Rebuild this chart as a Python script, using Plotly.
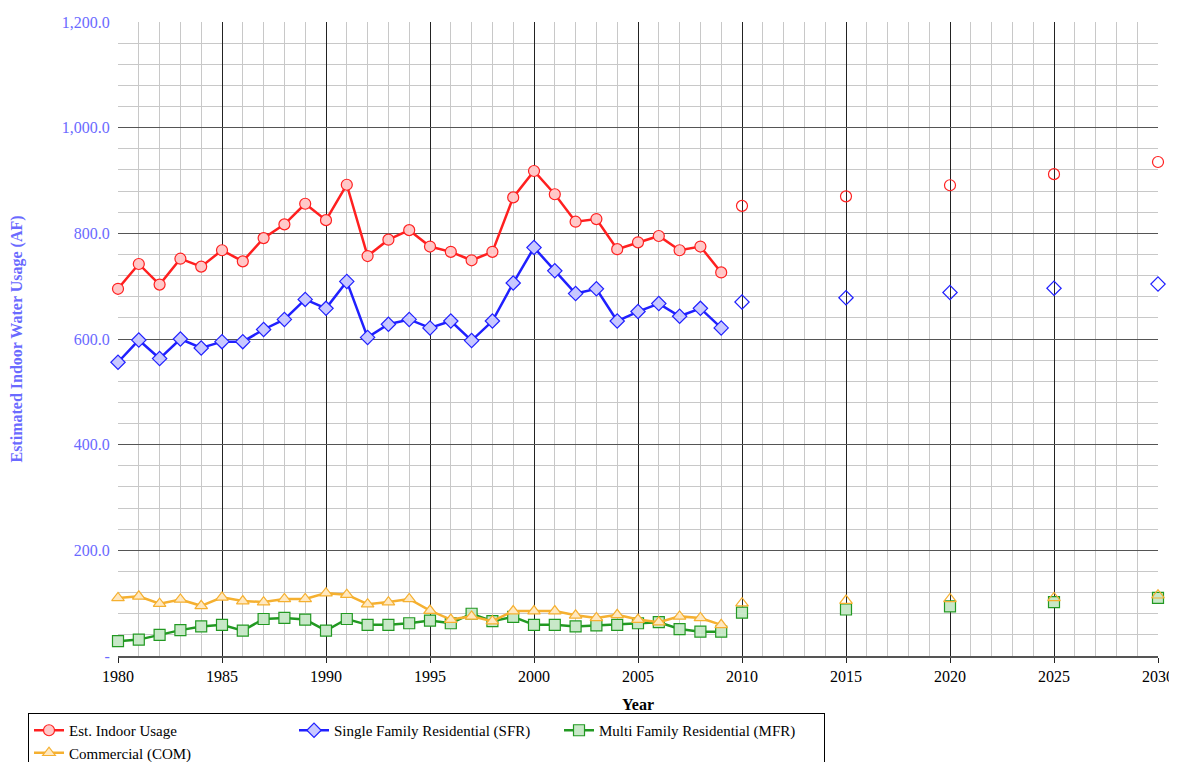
import plotly.graph_objects as go

years = list(range(1980, 2010))
proj_years = [2010, 2015, 2020, 2025, 2030]

indoor = [695, 742, 703, 752, 737, 768, 747, 791, 817, 856, 825, 892, 757, 788, 806,
          775, 765, 749, 765, 868, 918, 874, 822, 827, 770, 783, 795, 768, 775, 726]
indoor_proj = [852, 870, 891, 912, 935]
sfr = [556, 598, 563, 600, 583, 595, 595, 618, 637, 675, 658, 709, 603, 628, 637,
       621, 634, 597, 634, 706, 773, 729, 686, 695, 634, 652, 667, 643, 658, 621]
sfr_proj = [670, 678, 688, 696, 704]
mfr = [28, 31, 40, 49, 56, 59, 48, 70, 72, 69, 48, 70, 59, 59, 62,
       67, 62, 80, 66, 74, 59, 59, 56, 58, 59, 62, 64, 51, 46, 46]
mfr_proj = [82, 88, 94, 102, 110]
com = [110, 113, 99, 107, 95, 111, 104, 102, 108, 108, 119, 116, 98, 102, 108,
       86, 69, 75, 66, 85, 85, 85, 77, 72, 78, 69, 64, 75, 72, 59]
com_proj = [100, 105, 108, 110, 115]

series = [
    ("Est. Indoor Usage", indoor, indoor_proj, "#ff2020", "circle", "#ffc8c8"),
    ("Single Family Residential (SFR)", sfr, sfr_proj, "#2020ff", "diamond", "#c8c8ff"),
    ("Multi Family Residential (MFR)", mfr, mfr_proj, "#229922", "square", "#c8e8c8"),
    ("Commercial (COM)", com, com_proj, "#f5b030", "triangle-up", "#ffe8c0"),
]

fig = go.Figure()
for name, hist, proj, col, sym, fill in series:
    fig.add_trace(go.Scatter(
        x=years, y=hist, mode="lines+markers", name=name,
        line=dict(color=col, width=2.5),
        marker=dict(symbol=sym, size=11, color=fill, line=dict(color=col, width=1.2)),
        cliponaxis=False,
    ))
    fig.add_trace(go.Scatter(
        x=proj_years, y=proj, mode="markers", showlegend=False,
        marker=dict(symbol=sym, size=11, color="rgba(0,0,0,0)" if sym != "square" else fill,
                    line=dict(color=col, width=1.2)),
        cliponaxis=False,
    ))

yvals = [0, 200, 400, 600, 800, 1000, 1200]
ylabels = ["-", "200.0", "400.0", "600.0", "800.0", "1,000.0", "1,200.0"]

fig.update_xaxes(
    range=[1980, 2030], tickvals=list(range(1980, 2031, 5)),
    showgrid=True, gridcolor="#222", gridwidth=1,
    minor=dict(dtick=1, showgrid=True, gridcolor="#c8c8c8"),
    ticks="outside", ticklen=5, tickcolor="#222",
    showline=True, linecolor="#555", linewidth=2,
    title=dict(text="<b>Year</b>", font=dict(size=16, color="black"), standoff=22),
    tickfont=dict(size=16, color="black"), zeroline=False, automargin=False,
)
fig.update_yaxes(
    range=[0, 1200], tickvals=yvals, ticktext=ylabels,
    showgrid=True, gridcolor="#555", gridwidth=1,
    minor=dict(dtick=40, showgrid=True, gridcolor="#c8c8c8"),
    showline=False, zeroline=False, ticks="outside", ticklen=4, tickcolor="white",
    title=dict(text="<b>Estimated Indoor Water Usage (AF)</b>", font=dict(size=16, color="#6a6aff"),
               standoff=36),
    tickfont=dict(size=16, color="#6a6aff"), automargin=False,
)
fig.update_layout(
    width=1177, height=762,
    margin=dict(l=110, r=27, t=14, b=114),
    plot_bgcolor="white", paper_bgcolor="white",
    font=dict(family="Liberation Serif, Times New Roman, serif"),
    legend=dict(orientation="h", xref="container", yref="container",
                x=0.017, xanchor="left", y=0.0, yanchor="bottom",
                font=dict(size=15, color="black"), bordercolor="black", borderwidth=1,
                entrywidth=220, itemwidth=30),
)
fig.write_html("out.html")
